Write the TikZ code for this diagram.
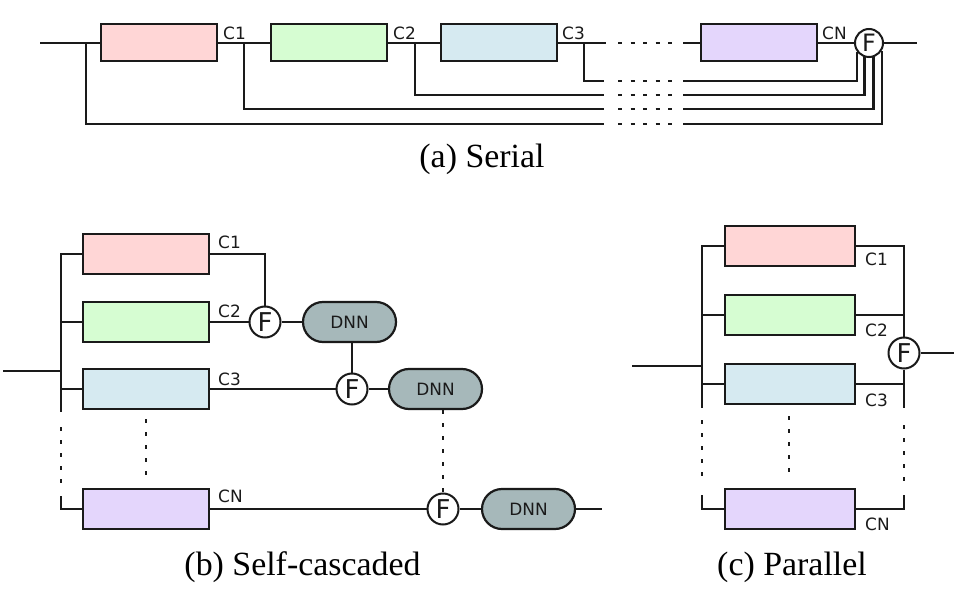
\documentclass[tikz,border=0pt]{standalone}
\usepackage{fontspec}
\setmainfont{Liberation Serif}
\newfontfamily\dejavu{DejaVu Sans}
\definecolor{lc}{HTML}{1A1A1A}
\definecolor{pinkc}{HTML}{FFD6D6}
\definecolor{greenc}{HTML}{D6FDD2}
\definecolor{bluec}{HTML}{D6EAF1}
\definecolor{purpc}{HTML}{E4D6FC}
\definecolor{dnnc}{HTML}{A6B8BA}
\begin{document}
\begin{tikzpicture}[x=1bp,y=-1bp,line width=2.4bp,color=lc,
  boxbase/.style={draw=lc,rectangle,inner sep=0pt,line width=2.2bp},
  boxa/.style={boxbase,minimum width=116bp,minimum height=37bp},
  boxb/.style={boxbase,minimum width=126bp,minimum height=40bp},
  boxc/.style={boxbase,minimum width=130bp,minimum height=40bp},
  fuse/.style={circle,draw=lc,fill=white,line width=2bp,minimum size=31bp,inner sep=0pt,text=lc,font=\dejavu\fontsize{26}{26}\selectfont},
  dnn/.style={draw=lc,fill=dnnc,rounded corners=20bp,line width=2.2bp,minimum width=93bp,minimum height=40bp,inner sep=0pt,text=lc,font=\dejavu\fontsize{17}{17}\selectfont},
  lab/.style={inner sep=0pt,anchor=west,text=lc,font=\dejavu\fontsize{17}{17}\selectfont},
  captext/.style={inner sep=0pt,anchor=base,text=black,font=\fontsize{34}{40}\selectfont},
  dots/.style={dash pattern=on 4bp off 9bp,line width=2.6bp},
  dashh/.style={dash pattern=on 4bp off 8.5bp,line width=2.4bp}]
\useasboundingbox (0,0) rectangle (971,602);

% ---------------- (a) Serial ----------------
\node[boxa,fill=pinkc] (a1) at (159,42.5) {};
\node[boxa,fill=greenc] (a2) at (329,42.5) {};
\node[boxa,fill=bluec] (a3) at (499,42.5) {};
\node[boxa,fill=purpc] (aN) at (759,42.5) {};
\coordinate (ain) at (40,43);
\coordinate (aout) at (917,43);
\coordinate (a3e) at (606,43);
\coordinate (ads) at (618,43);
\coordinate (ade) at (672,43);
\coordinate (aNw) at (683,43);
\coordinate (r3) at (584,43);
\coordinate (r2) at (415,43);
\coordinate (r1) at (244,43);
\coordinate (r0) at (86,43);
\coordinate (r3a) at (604,81);  \coordinate (r3b) at (618,81);  \coordinate (r3c) at (672,81);  \coordinate (r3d) at (683,81);
\coordinate (r2a) at (604,95);  \coordinate (r2b) at (618,95);  \coordinate (r2c) at (672,95);  \coordinate (r2d) at (683,95);
\coordinate (r1a) at (604,109); \coordinate (r1b) at (618,109); \coordinate (r1c) at (672,109); \coordinate (r1d) at (683,109);
\coordinate (r0a) at (604,124); \coordinate (r0b) at (618,124); \coordinate (r0c) at (672,124); \coordinate (r0d) at (683,124);
\node[fuse,minimum size=28bp,font=\dejavu\fontsize{24}{24}\selectfont] (fa) at (869,43) {F};
\draw (ain) -- (ain -| a1.west);
\draw (a1.east |- ain) -- (ain -| a2.west);
\draw (a2.east |- ain) -- (ain -| a3.west);
\draw (a3.east |- ain) -- (a3e);
\draw[dashh] (ads) -- (ade);
\draw (aNw) -- (aNw -| aN.west);
\draw (aN.east |- ain) -- (fa);
\draw (fa) -- (aout);
\draw (r3) |- (r3a); \draw[dashh] (r3b) -- (r3c); \draw (r3d) -| (fa.-142);
\draw (r2) |- (r2a); \draw[dashh] (r2b) -- (r2c); \draw (r2d) -| (fa.-107);
\draw (r1) |- (r1a); \draw[dashh] (r1b) -- (r1c); \draw (r1d) -| (fa.-73);
\draw (r0) |- (r0a); \draw[dashh] (r0b) -- (r0c); \draw (r0d) -| (fa.-31);
\node[lab] (la1) at (222,33) {C1};
\node[lab] (la2) at (392,33) {C2};
\node[lab] (la3) at (561,33) {C3};
\node[lab] (laN) at (821,33) {CN};
\node[captext] (capa) at (482,168) {(a) Serial};

% ---------------- (b) Self-cascaded ----------------
\node[boxb,fill=pinkc] (b1) at (146,254) {};
\node[boxb,fill=greenc] (b2) at (146,322) {};
\node[boxb,fill=bluec] (b3) at (146,389) {};
\node[boxb,fill=purpc] (bN) at (146,509) {};
\node[fuse] (fb1) at (265,322) {F};
\node[dnn] (d1) at (349.5,322) {DNN};
\node[fuse] (fb2) at (352,389) {F};
\node[dnn] (d2) at (435.5,389) {DNN};
\node[fuse] (fb3) at (443,509) {F};
\node[dnn] (d3) at (528.5,509) {DNN};
\coordinate (bin) at (3,371);
\coordinate (bbus) at (61,371);
\coordinate (bbusbot) at (61,412);
\coordinate (bdot1) at (61,427);
\coordinate (bdot2) at (61,484);
\coordinate (bbusN) at (61,496);
\coordinate (bmid1) at (146,419);
\coordinate (bmid2) at (146,479);
\coordinate (bout) at (602,509);
\draw (bin) -- (bbus);
\draw (b1.west) -| (bbusbot);
\draw (b2.west) -- (b2.west -| bbusbot);
\draw (b3.west) -- (b3.west -| bbusbot);
\draw[dots] (bdot1) -- (bdot2);
\draw (bbusN) |- (bN.west);
\draw[dots] (bmid1) -- (bmid2);
\draw (b1.east) -| (fb1.north);
\draw (b2) -- (fb1);
\draw (fb1) -- (d1);
\draw (fb2.north) -- (fb2.north |- d1.south);
\draw (b3) -- (fb2);
\draw (fb2) -- (d2);
\draw[dots] (fb3.north |- d2.south) -- (fb3.north);
\draw (bN) -- (fb3);
\draw (fb3) -- (d3);
\draw (d3) -- (bout);
\node[lab] (lb1) at (217,242) {C1};
\node[lab] (lb2) at (217,311) {C2};
\node[lab] (lb3) at (217,379) {C3};
\node[lab] (lbN) at (217,496) {CN};
\node[captext] (capb) at (302.5,575) {(b) Self-cascaded};

% ---------------- (c) Parallel ----------------
\node[boxc,fill=pinkc] (c1) at (790,246) {};
\node[boxc,fill=greenc] (c2) at (790,315) {};
\node[boxc,fill=bluec] (c3) at (790,384) {};
\node[boxc,fill=purpc] (cN) at (790,509) {};
\node[fuse] (cf) at (904,353) {F};
\coordinate (cin) at (632,366);
\coordinate (cbus) at (702,366);
\coordinate (cbusbot) at (702,408);
\coordinate (cdl1) at (702,420);
\coordinate (cdl2) at (702,480);
\coordinate (cbusN) at (702,495);
\coordinate (cdm1) at (789,416);
\coordinate (cdm2) at (789,475);
\coordinate (crbot) at (904,408);
\coordinate (cdr1) at (904,425);
\coordinate (cdr2) at (904,484);
\coordinate (crN) at (904,495);
\coordinate (cout) at (954,353);
\draw (cin) -- (cbus);
\draw (c1.west) -| (cbusbot);
\draw (c2.west) -- (c2.west -| cbusbot);
\draw (c3.west) -- (c3.west -| cbusbot);
\draw[dots] (cdl1) -- (cdl2);
\draw (cbusN) |- (cN.west);
\draw[dots] (cdm1) -- (cdm2);
\draw (c1.east) -| (cf.north);
\draw (c2.east) -- (c2.east -| cf.center);
\draw (c3.east) -| (cf.south);
\draw (cf.south) -- (crbot);
\draw[dots] (cdr1) -- (cdr2);
\draw (cN.east) -| (crN);
\draw (cf) -- (cout);
\node[lab] (lc1) at (864,259) {C1};
\node[lab] (lc2) at (864,330) {C2};
\node[lab] (lc3) at (864,400) {C3};
\node[lab] (lcN) at (864,524) {CN};
\node[captext] (capc) at (792,575) {(c) Parallel};
\end{tikzpicture}
\end{document}
